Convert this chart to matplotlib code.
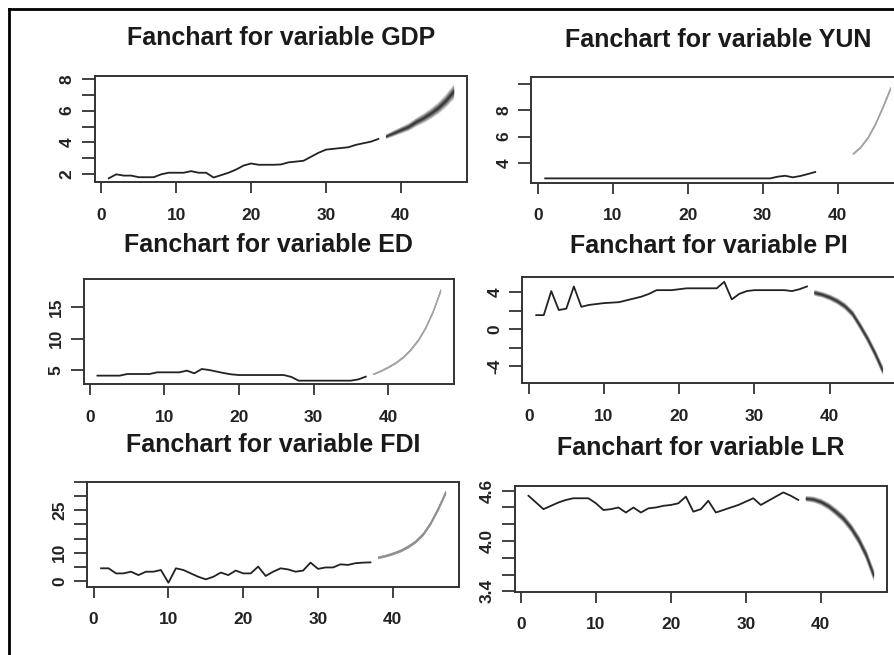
import numpy as np
import matplotlib.pyplot as plt
from matplotlib.lines import Line2D

plt.rcParams["font.family"] = ["Liberation Sans", "DejaVu Sans"]

# observed series (t = 1..37) and 10-step forecasts (t = 38..47)
t_hist = np.arange(1, 38)
t_fc = np.arange(38, 48)

gdp = [1.75, 2.0, 1.92, 1.92, 1.82, 1.82, 1.82, 2.0, 2.1, 2.1, 2.1, 2.2, 2.1,
       2.1, 1.8, 1.95, 2.1, 2.3, 2.55, 2.68, 2.6, 2.6, 2.6, 2.62, 2.75, 2.8,
       2.85, 3.1, 3.35, 3.55, 3.6, 3.65, 3.7, 3.85, 3.95, 4.05, 4.22]
gdp_fc = [4.4, 4.6, 4.8, 5.0, 5.3, 5.55, 5.85, 6.2, 6.65, 7.2]
gdp_hw = [0.12, 0.16, 0.19, 0.22, 0.25, 0.28, 0.31, 0.35, 0.39, 0.44]

yun = [2.8] * 31 + [2.93, 3.0, 2.88, 2.98, 3.13, 3.29]
yun_fc = [np.nan, np.nan, np.nan, np.nan, 4.7, 5.2, 5.95, 7.0, 8.3, 9.7]
yun_hw = [0.05, 0.05, 0.05, 0.05, 0.05, 0.06, 0.07, 0.08, 0.09, 0.1]

ed = [4.1, 4.1, 4.1, 4.1, 4.36, 4.36, 4.36, 4.36, 4.63, 4.63, 4.63, 4.63,
      4.9, 4.47, 5.16, 5.0, 4.75, 4.5, 4.3, 4.2, 4.2, 4.2, 4.2, 4.2, 4.2,
      4.2, 3.9, 3.3, 3.3, 3.3, 3.3, 3.3, 3.3, 3.3, 3.3, 3.5, 3.94]
ed_fc = [4.4, 4.9, 5.5, 6.2, 7.1, 8.3, 9.8, 11.8, 14.4, 17.7]
ed_hw = [0.08, 0.09, 0.1, 0.11, 0.12, 0.13, 0.14, 0.16, 0.18, 0.2]

pi = [1.5, 1.5, 4.1, 2.05, 2.2, 4.6, 2.4, 2.6, 2.7, 2.8, 2.85, 2.9, 3.1,
      3.3, 3.5, 3.8, 4.2, 4.2, 4.2, 4.3, 4.4, 4.4, 4.4, 4.4, 4.4, 5.1, 3.2,
      3.8, 4.1, 4.2, 4.2, 4.2, 4.2, 4.2, 4.1, 4.3, 4.6]
pi_fc = [3.95, 3.75, 3.45, 3.05, 2.5, 1.7, 0.4, -1.0, -2.6, -4.4]
pi_hw = [0.3, 0.28, 0.3, 0.32, 0.34, 0.36, 0.38, 0.4, 0.42, 0.45]

fdi = [4.5, 4.5, 2.7, 2.7, 3.3, 2.1, 3.3, 3.3, 3.9, -0.6, 4.5, 3.9, 2.7,
       1.5, 0.6, 1.5, 3.0, 2.1, 3.7, 2.7, 2.7, 5.1, 1.8, 3.3, 4.5, 4.1, 3.3,
       3.7, 6.5, 4.3, 4.8, 4.8, 5.9, 5.7, 6.3, 6.5, 6.6]
fdi_fc = [8.4, 9.0, 9.8, 10.8, 12.2, 14.0, 16.6, 20.5, 25.5, 31.3]
fdi_hw = [0.35, 0.37, 0.4, 0.42, 0.45, 0.48, 0.5, 0.55, 0.6, 0.65]

lr = [4.54, 4.46, 4.38, 4.42, 4.46, 4.49, 4.51, 4.51, 4.51, 4.45, 4.37,
      4.38, 4.40, 4.34, 4.40, 4.34, 4.39, 4.40, 4.42, 4.43, 4.45, 4.53,
      4.35, 4.38, 4.48, 4.34, 4.37, 4.40, 4.43, 4.47, 4.51, 4.43, 4.48,
      4.53, 4.58, 4.54, 4.49]
lr_fc = [4.51, 4.50, 4.47, 4.42, 4.35, 4.27, 4.16, 4.02, 3.84, 3.6]
lr_hw = [0.03, 0.033, 0.036, 0.04, 0.043, 0.046, 0.05, 0.054, 0.058, 0.062]

x_ticks = [0, 10, 20, 30, 40]

# name, history, forecast, half-width, ylim, yticks, ytick labels,
# box in pixels (left, top, right, bottom), title pad, shades used
panels = [
    ("GDP", gdp, gdp_fc, gdp_hw, (1.50, 8.17), [2, 3, 4, 5, 6, 7, 8],
     ["2", "", "4", "", "6", "", "8"], (95, 76, 467, 182.3), 22, 9),
    ("YUN", yun, yun_fc, yun_hw, (2.47, 10.58), [4, 6, 8, 10],
     ["4", "6", "8", ""], (531.4, 76.7, 904, 182.7), 21.5, 4),
    ("ED", ed, ed_fc, ed_hw, (2.72, 19.47), [5, 10, 15],
     ["5", "10", "15"], (83.7, 279.3, 454, 384.3), 19.5, 4),
    ("PI", pi, pi_fc, pi_hw, (-5.87, 5.59), [-4, -2, 0, 2, 4],
     ["-4", "", "0", "", "4"], (522.4, 277.3, 896, 383.3), 17.5, 9),
    ("FDI", fdi, fdi_fc, fdi_hw, (-2.0, 35.1), [0, 5, 10, 15, 20, 25, 30, 35],
     ["0", "", "10", "", "", "25", "", ""], (87.3, 481.7, 459, 586.7), 21.5, 5),
    ("LR", lr, lr_fc, lr_hw, (3.395, 4.66), [3.4, 3.6, 3.8, 4.0, 4.2, 4.4, 4.6],
     ["3.4", "", "", "4.0", "", "", "4.6"], (514.7, 485.7, 887, 591.7), 22, 9),
]

# fan shades, outermost interval first
fan_levels = np.linspace(1.0, 0.12, 9)
fan_colors = ["#e2e2e2", "#cccccc", "#b6b6b6", "#a2a2a2", "#8f8f8f",
              "#7c7c7c", "#686868", "#525252", "#3a3a3a"]

W, H = 895, 655
fig = plt.figure(figsize=(W / 100, H / 100), dpi=100)

for name, hist, fc, hw, ylim, yt, ytl, box, pad, n_shades in panels:
    l, t, r, b = box
    ax = fig.add_axes([l / W, 1 - b / H, (r - l) / W, (b - t) / H])
    fc = np.array(fc)
    hw = np.array(hw)
    for lev, col in list(zip(fan_levels, fan_colors))[:n_shades]:
        ax.fill_between(t_fc, fc - lev * hw, fc + lev * hw, facecolor=col,
                        edgecolor=col, linewidth=0.5)
    ax.plot(t_hist, hist, color="#222222", linewidth=1.3)

    ax.set_xlim(-0.84, 48.84)
    ax.set_ylim(*ylim)
    ax.set_xticks(x_ticks)
    ax.set_yticks(yt)
    ax.set_yticklabels(ytl, rotation=90, va="center")
    ax.tick_params(axis="x", length=8, width=1.3, pad=10.5, color="#333333",
                   labelsize=12.5, labelcolor="#222222")
    ax.tick_params(axis="y", length=9.5, width=1.3, pad=5, color="#333333",
                   labelsize=12.5, labelcolor="#222222")
    for lab in ax.get_xticklabels() + ax.get_yticklabels():
        lab.set_fontweight("bold")
    for sp in ax.spines.values():
        sp.set_linewidth(1.4)
        sp.set_color("#333333")
    ax.set_title("Fanchart for variable " + name, fontsize=18,
                 fontweight="bold", color="#1a1a1a", pad=pad)

# frame around the page
fig.add_artist(Line2D([9 / W, 9 / W], [0, 1 - 9 / H], color="black",
                      linewidth=2, transform=fig.transFigure))
fig.add_artist(Line2D([9 / W, 1], [1 - 9 / H, 1 - 9 / H], color="black",
                      linewidth=2, transform=fig.transFigure))

fig.savefig("out.png", dpi=100)
